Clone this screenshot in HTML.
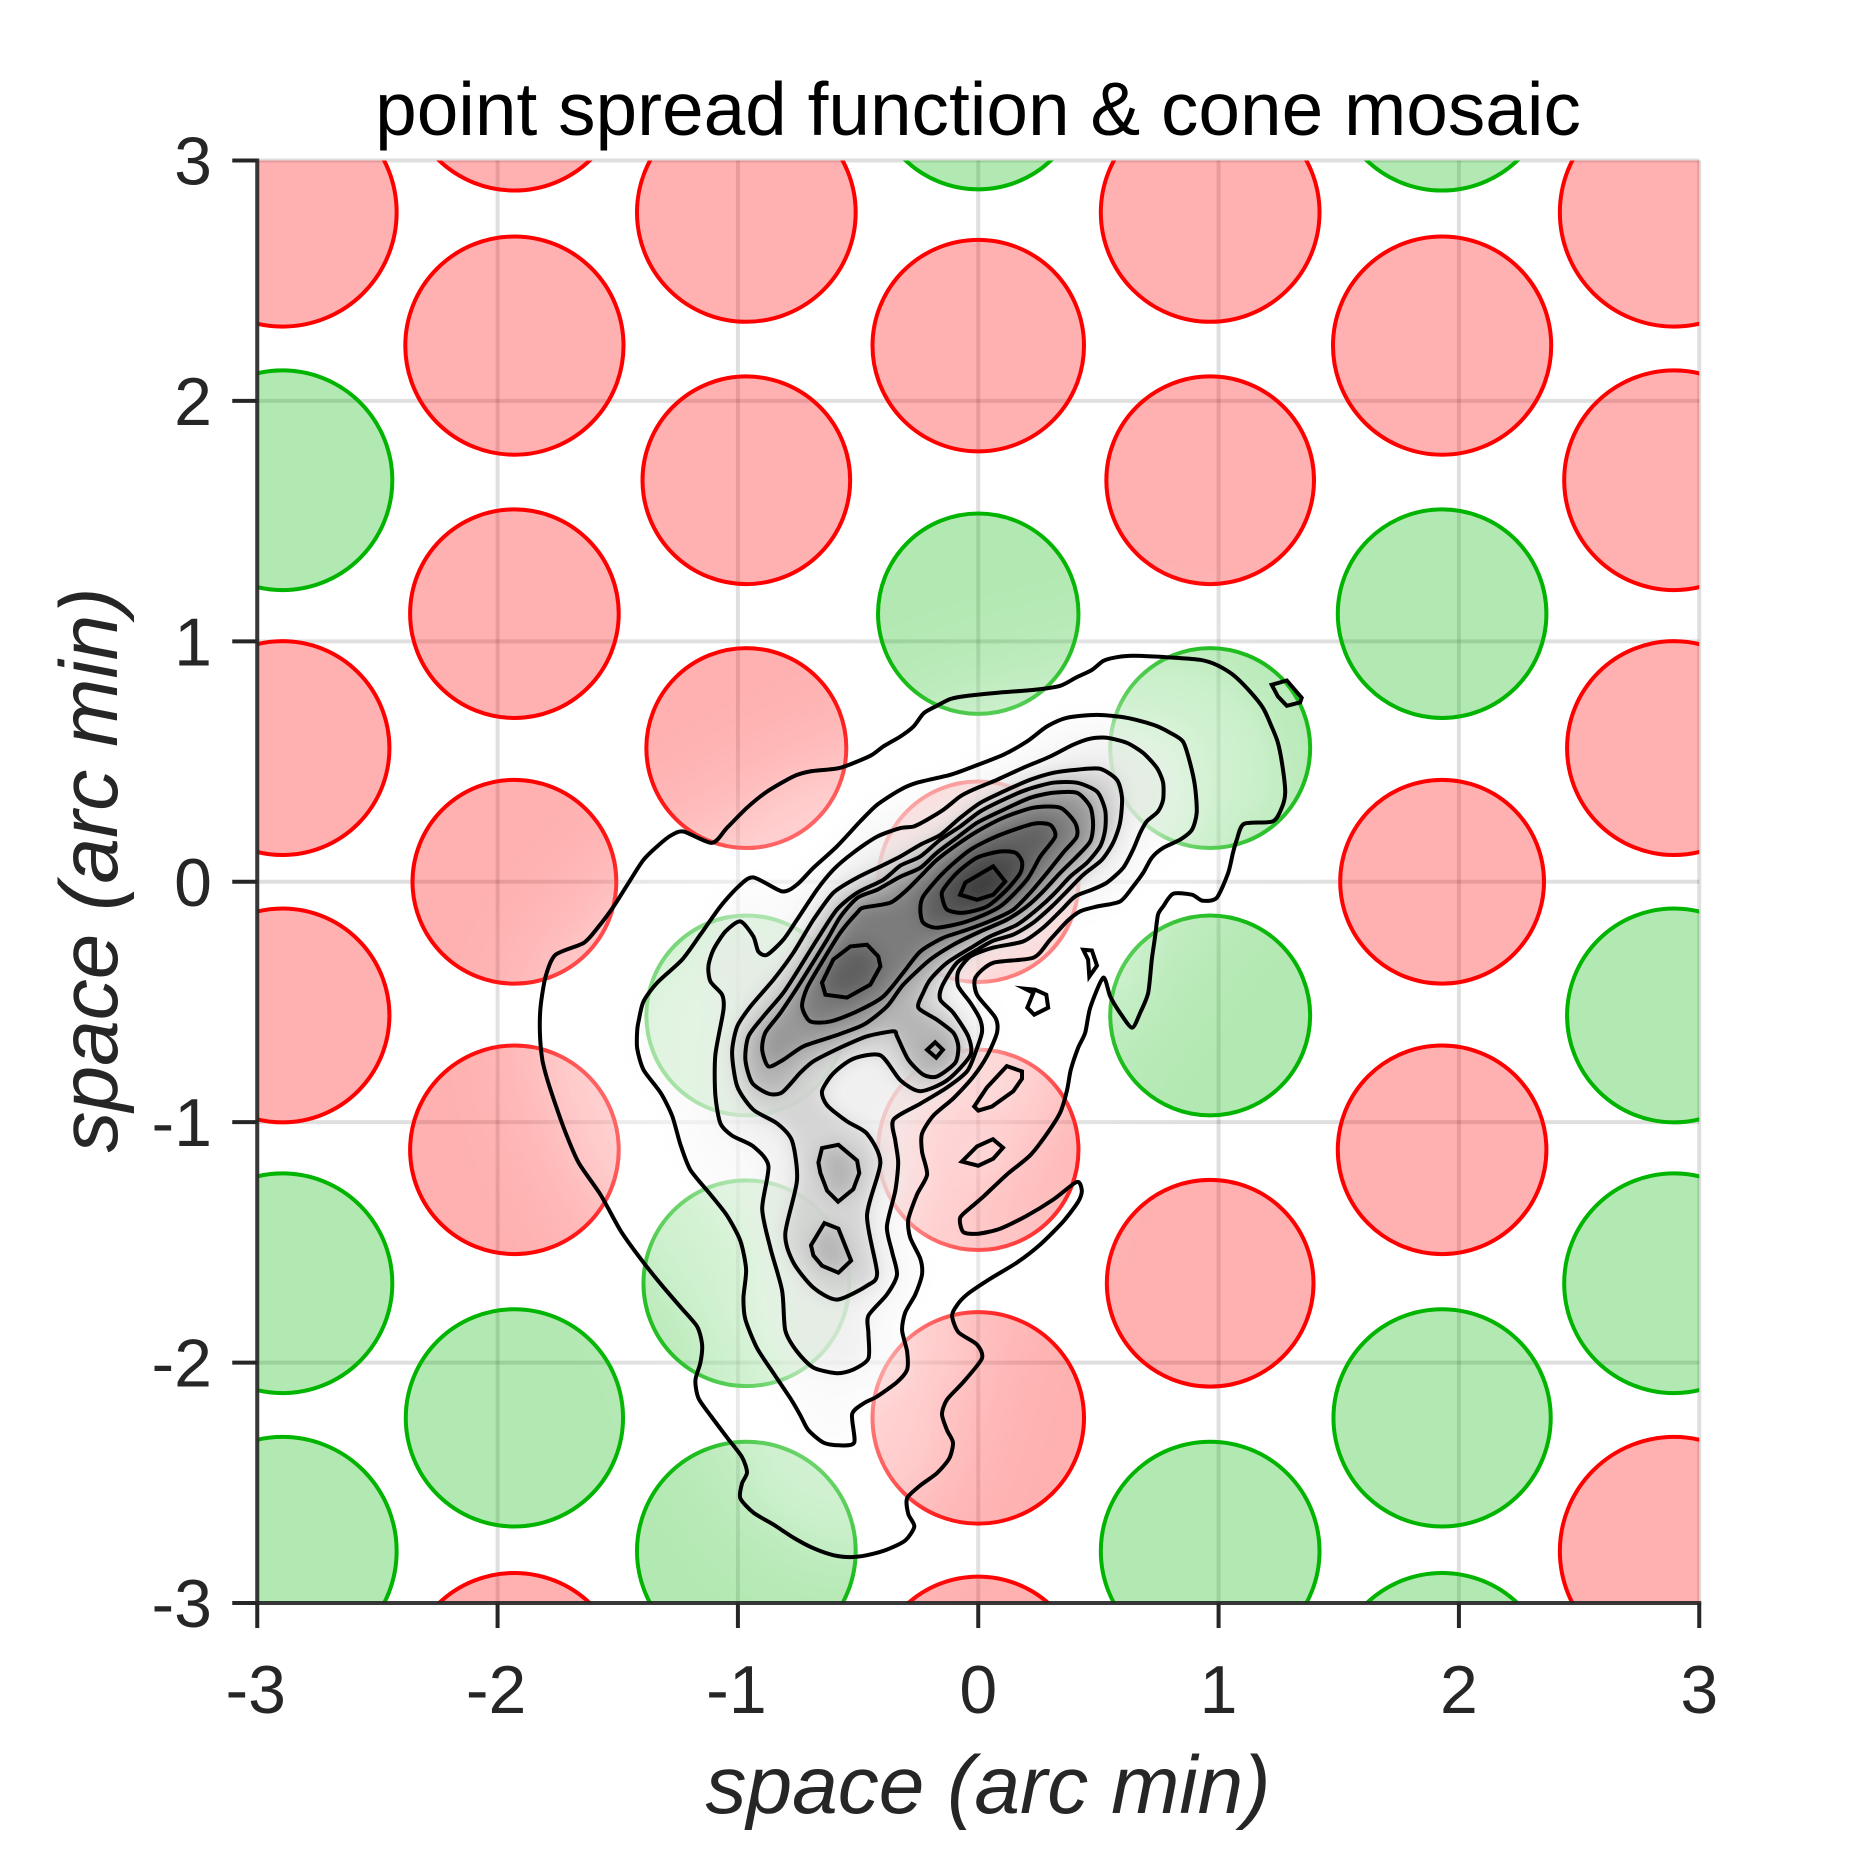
<!DOCTYPE html>
<html lang="en">
<head>
<meta charset="utf-8">
<title>point spread function &amp; cone mosaic</title>
<style>
html,body{margin:0;padding:0;background:#fff;}
svg{display:block;}
text{font-family:"Liberation Sans",Arial,sans-serif;}
</style>
</head>
<body>
<svg id="chart" xmlns="http://www.w3.org/2000/svg" width="1860" height="1860" viewBox="0 0 1860 1860">
  <defs>
    <clipPath id="plot-clip"><rect x="257.25" y="160.5" width="1442" height="1442.5"/></clipPath>
    <filter id="blur-wide" x="-60%" y="-60%" width="220%" height="220%"><feGaussianBlur stdDeviation="60"/></filter>
    <filter id="blur-low" x="-20%" y="-20%" width="140%" height="140%"><feGaussianBlur stdDeviation="14"/></filter>
    <filter id="blur-high" x="-20%" y="-20%" width="140%" height="140%"><feGaussianBlur stdDeviation="8.5"/></filter>
  </defs>
  <rect x="0" y="0" width="1860" height="1860" fill="#ffffff"/>
  <g id="grid-layer"></g>
  <g id="cone-layer" clip-path="url(#plot-clip)"></g>
  <g clip-path="url(#plot-clip)">
    <g id="psf-wide-layer" filter="url(#blur-wide)"></g>
    <g id="psf-low-layer" filter="url(#blur-low)"></g>
    <g id="psf-high-layer" filter="url(#blur-high)"></g>
  </g>
  <g id="contour-layer" clip-path="url(#plot-clip)"></g>
  <g id="axis-layer"></g>
  <text x="978" y="135" font-size="74.8" text-anchor="middle" fill="#000000">point spread function &amp; cone mosaic</text>
  <text x="988" y="1813" font-size="82" font-style="italic" text-anchor="middle" fill="#262626">space (arc min)</text>
  <text transform="translate(117,870) rotate(-90)" x="0" y="0" font-size="82" font-style="italic" text-anchor="middle" fill="#262626">space (arc min)</text>
</svg>
<script>
// Axis ticks
const xTicks = [-3,-2,-1,0,1,2,3];
const yTicks = [-3,-2,-1,0,1,2,3];

// Cone mosaic (arc min)
const coneX = [-2.895,-2.895,-2.895,-2.895,-2.895,-2.895,
  -1.93,-1.93,-1.93,-1.93,-1.93,-1.93,-1.93,
  -0.965,-0.965,-0.965,-0.965,-0.965,-0.965,
  0,0,0,0,0,0,0,
  0.965,0.965,0.965,0.965,0.965,0.965,
  1.93,1.93,1.93,1.93,1.93,1.93,1.93,
  2.895,2.895,2.895,2.895,2.895,2.895];
const coneY = [2.784,1.67,0.556,-0.556,-1.67,-2.784,
  3.33,2.23,1.115,0,-1.115,-2.23,-3.33,
  2.784,1.67,0.556,-0.556,-1.67,-2.784,
  3.32,2.23,1.115,0,-1.115,-2.23,-3.33,
  2.784,1.67,0.556,-0.556,-1.67,-2.784,
  3.33,2.23,1.115,0,-1.115,-2.23,-3.33,
  2.784,1.67,0.556,-0.556,-1.67,-2.784];
const coneR = [0.475,0.457,0.445,0.445,0.457,0.475,
  0.455,0.454,0.434,0.424,0.434,0.452,0.455,
  0.455,0.432,0.416,0.416,0.428,0.455,
  0.44,0.44,0.417,0.417,0.417,0.44,0.44,
  0.455,0.432,0.416,0.416,0.43,0.455,
  0.455,0.454,0.434,0.424,0.434,0.452,0.455,
  0.475,0.457,0.445,0.445,0.457,0.475];
const coneType = ["L","M","L","L","M","M",
  "L","L","L","L","L","M","L",
  "L","L","L","M","M","M",
  "M","L","M","L","L","L","L",
  "L","L","M","M","L","M",
  "M","L","M","L","L","M","M",
  "L","L","L","M","M","L"];

// PSF iso-contours (arc min): [x, y] vertices
const contour0 = [[-.324,.604],[-.269,.646],[-.227,.701],[-.172,.732],[-.116,.760],[-.047,.773],[.091,.787],[.230,.798],[.341,.815],[.410,.851],[.473,.881],[.521,.919],[.577,.934],[.644,.940],[.785,.934],[.923,.923],[.992,.902],[1.060,.861],[1.131,.791],[1.185,.723],[1.214,.661],[1.247,.578],[1.268,.466],[1.277,.370],[1.263,.308],[1.225,.251],[1.106,.241],[1.076,.175],[1.060,.121],[1.040,.037],[.992,-.067],[.934,-.079],[.889,-.054],[.811,-.050],[.769,-.103],[.748,-.137],[.736,-.227],[.722,-.324],[.707,-.462],[.674,-.545],[.640,-.607],[.590,-.545],[.549,-.477],[.520,-.399],[.466,-.524],[.445,-.628],[.416,-.690],[.385,-.782],[.369,-.869],[.341,-.960],[.286,-1.048],[.216,-1.138],[.119,-1.218],[.021,-1.310],[-.021,-1.346],[-.075,-1.397],[-.062,-1.457],[0,-1.464],[.091,-1.443],[.202,-1.389],[.312,-1.322],[.410,-1.249],[.431,-1.285],[.416,-1.331],[.353,-1.414],[.258,-1.509],[.161,-1.584],[.050,-1.651],[-.047,-1.717],[-.089,-1.762],[-.109,-1.805],[-.083,-1.873],[-.005,-1.925],[.015,-1.983],[-.062,-2.081],[-.130,-2.154],[-.151,-2.215],[-.130,-2.281],[-.105,-2.333],[-.121,-2.399],[-.172,-2.460],[-.241,-2.511],[-.296,-2.564],[-.291,-2.630],[-.266,-2.682],[-.304,-2.740],[-.380,-2.778],[-.463,-2.801],[-.532,-2.809],[-.603,-2.801],[-.686,-2.772],[-.769,-2.728],[-.852,-2.674],[-.936,-2.624],[-.990,-2.564],[-.983,-2.503],[-.962,-2.457],[-.983,-2.393],[-1.045,-2.312],[-1.114,-2.220],[-1.164,-2.148],[-1.177,-2.074],[-1.156,-2.000],[-1.149,-1.925],[-1.170,-1.850],[-1.239,-1.769],[-1.322,-1.672],[-1.405,-1.568],[-1.489,-1.450],[-1.572,-1.301],[-1.663,-1.168],[-1.717,-1.044],[-1.759,-.927],[-1.793,-.823],[-1.814,-.740],[-1.824,-.628],[-1.821,-.519],[-1.800,-.394],[-1.759,-.304],[-1.641,-.254],[-1.580,-.187],[-1.518,-.104],[-1.447,.008],[-1.393,.091],[-1.336,.147],[-1.281,.191],[-1.227,.209],[-1.107,.162],[-1.045,.225],[-.962,.308],[-.879,.375],[-.769,.438],[-.699,.459],[-.574,.474],[-.449,.524],[-.395,.563]];
const contour0IslandA = [[1.221,.819],[1.284,.837],[1.346,.765],[1.339,.746],[1.284,.732],[1.247,.771]];
const contour0IslandB = [[.437,-.283],[.473,-.286],[.494,-.349],[.462,-.394],[.457,-.324]];
const contour0IslandC = [[.195,-.445],[.237,-.449],[.283,-.470],[.291,-.524],[.233,-.553],[.204,-.524],[.229,-.462]];

const contour1 = [[-.324,.383],[-.255,.412],[-.116,.445],[-.021,.479],[.104,.528],[.202,.583],[.286,.646],[.369,.682],[.494,.694],[.618,.682],[.728,.653],[.798,.620],[.852,.583],[.881,.495],[.902,.396],[.909,.287],[.889,.216],[.840,.175],[.769,.141],[.722,.100],[.686,.037],[.644,-.020],[.590,-.082],[.494,-.103],[.424,-.123],[.369,-.165],[.299,-.241],[.229,-.316],[.062,-.337],[-.012,-.399],[-.005,-.470],[.071,-.565],[.078,-.628],[.036,-.726],[-.021,-.811],[-.104,-.901],[-.187,-.973],[-.234,-1.048],[-.234,-1.123],[-.213,-1.218],[-.255,-1.301],[-.291,-1.405],[-.283,-1.480],[-.241,-1.568],[-.234,-1.634],[-.262,-1.717],[-.304,-1.792],[-.317,-1.866],[-.296,-1.954],[-.296,-2.029],[-.338,-2.081],[-.421,-2.141],[-.478,-2.170],[-.525,-2.215],[-.516,-2.333],[-.582,-2.344],[-.644,-2.333],[-.707,-2.281],[-.740,-2.220],[-.782,-2.148],[-.852,-2.044],[-.920,-1.940],[-.969,-1.821],[-.977,-1.732],[-.966,-1.613],[-.990,-1.493],[-1.045,-1.389],[-1.114,-1.301],[-1.198,-1.198],[-1.239,-1.094],[-1.274,-.973],[-1.322,-.877],[-1.393,-.782],[-1.419,-.693],[-1.419,-.618],[-1.412,-.574],[-1.393,-.498],[-1.336,-.420],[-1.232,-.324],[-1.156,-.220],[-1.073,-.103],[-.998,-.020],[-.936,.018],[-.816,-.040],[-.754,-.012],[-.686,.058],[-.588,.147],[-.491,.251],[-.421,.320]];
const contour1IslandA = [[.119,-.767],[.182,-.789],[.182,-.819],[.146,-.871],[.057,-.935],[0,-.952],[-.017,-.935],[.036,-.856]];
const contour1IslandB = [[.061,-1.071],[.103,-1.106],[.062,-1.152],[0,-1.181],[-.068,-1.164],[-.005,-1.101]];

const contour2 = [[-.324,.223],[-.269,.230],[-.213,.258],[-.146,.299],[-.075,.355],[-.021,.383],[.078,.424],[.187,.474],[.299,.521],[.395,.570],[.466,.595],[.535,.599],[.618,.578],[.686,.536],[.743,.474],[.769,.412],[.769,.341],[.748,.292],[.701,.251],[.674,.204],[.644,.133],[.603,.058],[.535,-.004],[.473,-.033],[.403,-.061],[.348,-.116],[.270,-.191],[.187,-.248],[.062,-.274],[-.033,-.311],[-.083,-.373],[-.083,-.435],[-.033,-.503],[.008,-.574],[.015,-.628],[-.012,-.711],[-.047,-.789],[-.130,-.856],[-.241,-.923],[-.353,-.990],[-.345,-1.077],[-.333,-1.168],[-.345,-1.285],[-.380,-1.434],[-.359,-1.538],[-.338,-1.634],[-.380,-1.717],[-.457,-1.805],[-.457,-1.879],[-.457,-1.983],[-.520,-2.029],[-.588,-2.044],[-.686,-2.021],[-.754,-1.954],[-.803,-1.866],[-.816,-1.701],[-.865,-1.524],[-.899,-1.360],[-.873,-1.181],[-.936,-1.101],[-1.024,-1.056],[-1.073,-1.005],[-1.094,-.886],[-1.094,-.722],[-1.060,-.532],[-1.066,-.470],[-1.114,-.415],[-1.123,-.352],[-1.102,-.283],[-1.052,-.207],[-.990,-.165],[-.936,-.227],[-.915,-.290],[-.879,-.304],[-.811,-.241],[-.754,-.158],[-.671,-.033],[-.603,.050],[-.520,.121],[-.421,.188]];

const contour3 = [[-.324,.105],[-.241,.154],[-.158,.195],[-.075,.266],[.008,.328],[.104,.375],[.216,.424],[.312,.453],[.410,.466],[.507,.470],[.577,.424],[.598,.349],[.590,.245],[.561,.162],[.514,.091],[.437,.029],[.369,-.040],[.306,-.103],[.229,-.170],[.146,-.220],[.062,-.245],[-.005,-.283],[-.089,-.337],[-.151,-.435],[-.158,-.491],[-.104,-.545],[-.042,-.643],[-.033,-.722],[-.130,-.826],[-.241,-.871],[-.324,-.826],[-.407,-.722],[-.520,-.736],[-.603,-.797],[-.650,-.871],[-.629,-.930],[-.546,-.997],[-.463,-1.048],[-.407,-1.168],[-.463,-1.389],[-.421,-1.628],[-.463,-1.680],[-.588,-1.738],[-.686,-1.688],[-.769,-1.584],[-.803,-1.464],[-.754,-1.242],[-.775,-1.077],[-.837,-1.005],[-.936,-.948],[-1.003,-.851],[-1.024,-.711],[-1.003,-.602],[-.948,-.519],[-.852,-.407],[-.769,-.295],[-.686,-.158],[-.603,-.046],[-.504,.017],[-.407,.064]];
const contour3LobeA = [[-.650,-1.108],[-.582,-1.094],[-.504,-1.160],[-.495,-1.212],[-.520,-1.279],[-.583,-1.331],[-.629,-1.285],[-.657,-1.212],[-.665,-1.168]];
const contour3LobeB = [[-.640,-1.420],[-.582,-1.443],[-.529,-1.576],[-.582,-1.626],[-.650,-1.597],[-.686,-1.554],[-.696,-1.512]];

const contour4 = [[-.324,.067],[-.241,.105],[-.158,.175],[-.075,.230],[.008,.292],[.104,.341],[.202,.383],[.312,.412],[.410,.412],[.494,.375],[.528,.299],[.528,.216],[.507,.147],[.452,.079],[.383,.022],[.312,-.054],[.244,-.116],[.161,-.179],[.050,-.227],[-.021,-.269],[-.130,-.337],[-.200,-.407],[-.229,-.462],[-.249,-.524],[-.172,-.574],[-.104,-.628],[-.083,-.685],[-.096,-.753],[-.172,-.810],[-.229,-.802],[-.291,-.740],[-.338,-.643],[-.353,-.622],[-.463,-.643],[-.574,-.690],[-.686,-.747],[-.740,-.794],[-.816,-.876],[-.873,-.881],[-.941,-.836],[-.969,-.740],[-.956,-.643],[-.894,-.560],[-.811,-.462],[-.740,-.352],[-.671,-.241],[-.588,-.116],[-.504,-.046],[-.395,.008]];
const contour4Diamond = [[-.179,-.668],[-.147,-.699],[-.175,-.732],[-.213,-.699]];

const contour5 = [[-.324,.021],[-.241,.058],[-.172,.121],[-.089,.183],[-.005,.245],[.104,.299],[.216,.349],[.312,.370],[.410,.370],[.466,.312],[.478,.237],[.466,.168],[.410,.105],[.341,.037],[.270,-.040],[.202,-.103],[.119,-.158],[.008,-.207],[-.104,-.262],[-.200,-.324],[-.312,-.428],[-.380,-.519],[-.478,-.595],[-.603,-.643],[-.728,-.685],[-.811,-.740],[-.873,-.768],[-.899,-.699],[-.886,-.628],[-.823,-.545],[-.740,-.420],[-.629,-.241],[-.574,-.146],[-.503,-.067],[-.420,-.033]];

const contour6 = [[-.241,.022],[-.172,.091],[-.089,.154],[-.005,.209],[.104,.266],[.229,.308],[.341,.308],[.403,.245],[.410,.188],[.353,.121],[.286,.037],[.216,-.046],[.146,-.116],[.062,-.158],[-.047,-.200],[-.146,-.233],[-.241,-.290],[-.312,-.378],[-.395,-.477],[-.504,-.539],[-.615,-.581],[-.699,-.581],[-.733,-.519],[-.712,-.441],[-.644,-.324],[-.574,-.212],[-.504,-.129],[-.478,-.108],[-.366,-.087],[-.296,-.033]];

const contour7 = [[-.241,-.116],[-.229,-.170],[-.172,-.191],[-.047,-.165],[.091,-.103],[.202,.008],[.258,.105],[.320,.188],[.299,.237],[.229,.241],[.091,.195],[-.033,.133],[-.146,.037],[-.229,-.061]];
const contour7PeakTwo = [[-.650,-.420],[-.603,-.324],[-.532,-.269],[-.463,-.262],[-.416,-.311],[-.407,-.352],[-.449,-.428],[-.546,-.482],[-.636,-.470]];

const contour8 = [[-.151,-.061],[-.130,-.116],[-.062,-.129],[.036,-.103],[.119,-.033],[.175,.037],[.182,.084],[.154,.121],[.091,.126],[-.005,.100],[-.089,.037],[-.146,-.033]];

const contour9 = [[-.075,-.054],[-.054,-.004],[.062,.064],[.112,.001],[.062,-.054],[-.005,-.075]];

// Contour groups by level, outermost first
const levelContours = [
  [contour0, contour0IslandA, contour0IslandB, contour0IslandC],
  [contour1, contour1IslandA, contour1IslandB],
  [contour2],
  [contour3],
  [contour3LobeA, contour3LobeB, contour4],
  [contour4Diamond, contour5],
  [contour6],
  [contour7, contour7PeakTwo],
  [contour8],
  [contour9]
];
// PSF grey value and opacity per level
const levelGrey = [255,246,232,205,176,150,122,96,76,60];
const levelAlpha = [0.10,0.40,0.55,0.78,0.85,0.90,0.94,0.97,0.98,1];
const haloAlpha = 0.42;

const PLOT_LEFT = 257.25, PLOT_RIGHT = 1699.25, PLOT_TOP = 160.5, PLOT_BOTTOM = 1603;
const X_MIN = -3, X_MAX = 3, Y_MIN = -3, Y_MAX = 3;
function xScale(v){ return PLOT_LEFT + (v - X_MIN) / (X_MAX - X_MIN) * (PLOT_RIGHT - PLOT_LEFT); }
function yScale(v){ return PLOT_BOTTOM - (v - Y_MIN) / (Y_MAX - Y_MIN) * (PLOT_BOTTOM - PLOT_TOP); }
const NS = "http://www.w3.org/2000/svg";
function make(tag){ return document.createElementNS(NS, tag); }
function pathFor(points){
  const pts = points.map(function(p){ return [xScale(p[0]), yScale(p[1])]; });
  const n = pts.length;
  if (n < 10) {
    return pts.map(function(p, i){
      return (i ? "L" : "M") + p[0].toFixed(1) + " " + p[1].toFixed(1);
    }).join("") + "Z";
  }
  let d = "M" + pts[0][0].toFixed(1) + " " + pts[0][1].toFixed(1);
  for (let i = 0; i < n; i++) {
    const p0 = pts[(i - 1 + n) % n], p1 = pts[i], p2 = pts[(i + 1) % n], p3 = pts[(i + 2) % n];
    const c1x = p1[0] + (p2[0] - p0[0]) / 8, c1y = p1[1] + (p2[1] - p0[1]) / 8;
    const c2x = p2[0] - (p3[0] - p1[0]) / 8, c2y = p2[1] - (p3[1] - p1[1]) / 8;
    d += "C" + c1x.toFixed(1) + " " + c1y.toFixed(1) + " " + c2x.toFixed(1) + " " + c2y.toFixed(1) + " " + p2[0].toFixed(1) + " " + p2[1].toFixed(1);
  }
  return d + "Z";
}

// Grid
const gridLayer = document.getElementById("grid-layer");
xTicks.forEach(function(t){
  const line = make("line");
  
  
  line.setAttribute("x1", xScale(t));
  line.setAttribute("x2", xScale(t));
  line.setAttribute("y1", PLOT_TOP);
  line.setAttribute("y2", PLOT_BOTTOM);
  line.setAttribute("stroke", "#262626");
  line.setAttribute("stroke-opacity", "0.15");
  line.setAttribute("stroke-width", "4");
  gridLayer.appendChild(line);
});
yTicks.forEach(function(t){
  const line = make("line");
  
  
  line.setAttribute("x1", PLOT_LEFT);
  line.setAttribute("x2", PLOT_RIGHT);
  line.setAttribute("y1", yScale(t));
  line.setAttribute("y2", yScale(t));
  line.setAttribute("stroke", "#262626");
  line.setAttribute("stroke-opacity", "0.15");
  line.setAttribute("stroke-width", "4");
  gridLayer.appendChild(line);
});

// Cones
const coneLayer = document.getElementById("cone-layer");
coneX.forEach(function(cx, i){
  const isL = coneType[i] === "L";
  const c = make("circle");
  
  
  c.setAttribute("cx", xScale(cx));
  c.setAttribute("cy", yScale(coneY[i]));
  c.setAttribute("r", coneR[i] * (PLOT_RIGHT - PLOT_LEFT) / (X_MAX - X_MIN));
  c.setAttribute("fill", isL ? "#ff0000" : "#00b400");
  c.setAttribute("fill-opacity", isL ? "0.31" : "0.30");
  c.setAttribute("stroke", isL ? "#ff0000" : "#00b400");
  c.setAttribute("stroke-width", "4");
  coneLayer.appendChild(c);
});

// PSF heatmap (stacked level bands) and contour lines
const psfWide = document.getElementById("psf-wide-layer");
const psfLow = document.getElementById("psf-low-layer");
const psfHigh = document.getElementById("psf-high-layer");
const contourLayer = document.getElementById("contour-layer");
const halo = make("path");


halo.setAttribute("d", pathFor(contour0));
halo.setAttribute("fill", "#ffffff");
halo.setAttribute("fill-opacity", haloAlpha);
psfWide.appendChild(halo);
levelContours.forEach(function(group, level){
  group.forEach(function(points){
    const band = make("path");
    
    
    band.setAttribute("d", pathFor(points));
    const g = levelGrey[level];
    band.setAttribute("fill", "rgb(" + g + "," + g + "," + g + ")");
    band.setAttribute("fill-opacity", levelAlpha[level]);
    (level < 3 ? psfLow : psfHigh).appendChild(band);
    const line = make("path");
    
    
    line.setAttribute("d", pathFor(points));
    line.setAttribute("fill", "none");
    line.setAttribute("stroke", "#000000");
    line.setAttribute("stroke-width", "4");
    line.setAttribute("stroke-linejoin", "miter");
    line.setAttribute("stroke-miterlimit", "8");
    contourLayer.appendChild(line);
  });
});

// Axes
const axisLayer = document.getElementById("axis-layer");
const yAxisLine = make("line");


yAxisLine.setAttribute("x1", PLOT_LEFT);
yAxisLine.setAttribute("x2", PLOT_LEFT);
yAxisLine.setAttribute("y1", PLOT_TOP - 2);
yAxisLine.setAttribute("y2", PLOT_BOTTOM + 2);
yAxisLine.setAttribute("stroke", "#262626");
yAxisLine.setAttribute("stroke-opacity", "0.9");
yAxisLine.setAttribute("stroke-width", "4");
axisLayer.appendChild(yAxisLine);
const xAxisLine = make("line");


xAxisLine.setAttribute("x1", PLOT_LEFT - 2);
xAxisLine.setAttribute("x2", PLOT_RIGHT + 2);
xAxisLine.setAttribute("y1", PLOT_BOTTOM);
xAxisLine.setAttribute("y2", PLOT_BOTTOM);
xAxisLine.setAttribute("stroke", "#262626");
xAxisLine.setAttribute("stroke-opacity", "0.9");
xAxisLine.setAttribute("stroke-width", "4");
axisLayer.appendChild(xAxisLine);
xTicks.forEach(function(t){
  const tick = make("line");
  
  
  tick.setAttribute("x1", xScale(t));
  tick.setAttribute("x2", xScale(t));
  tick.setAttribute("y1", PLOT_BOTTOM);
  tick.setAttribute("y2", PLOT_BOTTOM + 25);
  tick.setAttribute("stroke", "#262626");
  tick.setAttribute("stroke-width", "4");
  axisLayer.appendChild(tick);
  const label = make("text");
  
  
  label.setAttribute("x", xScale(t) - (t < 0 ? 1.5 : 0));
  label.setAttribute("y", 1713);
  label.setAttribute("text-anchor", "middle");
  label.setAttribute("font-size", "68");
  label.setAttribute("fill", "#262626");
  label.textContent = String(t);
  axisLayer.appendChild(label);
});
yTicks.forEach(function(t){
  const tick = make("line");
  
  
  tick.setAttribute("x1", PLOT_LEFT - 25);
  tick.setAttribute("x2", PLOT_LEFT);
  tick.setAttribute("y1", yScale(t));
  tick.setAttribute("y2", yScale(t));
  tick.setAttribute("stroke", "#262626");
  tick.setAttribute("stroke-width", "4");
  axisLayer.appendChild(tick);
  const label = make("text");
  
  
  label.setAttribute("x", 212);
  label.setAttribute("y", yScale(t) + 24);
  label.setAttribute("text-anchor", "end");
  label.setAttribute("font-size", "68");
  label.setAttribute("fill", "#262626");
  label.textContent = String(t);
  axisLayer.appendChild(label);
});
</script>
</body>
</html>
